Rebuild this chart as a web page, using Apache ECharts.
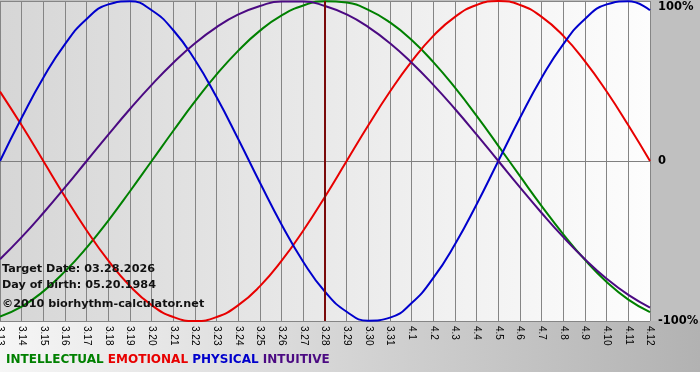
<!DOCTYPE html>
<html>
<head>
<meta charset="utf-8">
<script src="https://cdn.jsdelivr.net/npm/echarts@6/dist/echarts.min.js"></script>
<style>
html,body{margin:0;padding:0;background:#fff;}
#c{width:700px;height:380px;}
</style>
</head>
<body>
<div id="c"></div>
<script>
const dates = ['3.13','3.14','3.15','3.16','3.17','3.18','3.19','3.20','3.21','3.22','3.23','3.24','3.25','3.26','3.27','3.28','3.29','3.30','3.31','4.1','4.2','4.3','4.4','4.5','4.6','4.7','4.8','4.9','4.10','4.11','4.12'];
const targetDate = '3.28';
const physical = [0,27.0,52.0,73.1,88.8,97.9,99.8,94.2,81.7,63.1,39.8,13.6,-13.6,-39.8,-63.1,-81.7,-94.2,-99.8,-97.9,-88.8,-73.1,-52.0,-27.0,0,27.0,52.0,73.1,88.8,97.9,99.8,94.2];
const emotional = [43.4,22.3,0,-22.3,-43.4,-62.3,-78.2,-90.1,-97.5,-100,-97.5,-90.1,-78.2,-62.3,-43.4,-22.3,0,22.3,43.4,62.3,78.2,90.1,97.5,100,97.5,90.1,78.2,62.3,43.4,22.3,0];
const intellectual = [-97.2,-91.0,-81.5,-69.0,-54.1,-37.2,-18.9,0,18.9,37.2,54.1,69.0,81.5,91.0,97.2,99.9,99.0,94.5,86.6,75.6,61.8,45.8,28.2,9.5,-9.5,-28.2,-45.8,-61.8,-75.6,-86.6,-94.5];
const intuitive = [-61.4,-47.6,-32.5,-16.5,0,16.5,32.5,47.6,61.4,73.6,83.7,91.6,96.9,99.7,99.7,96.9,91.6,83.7,73.6,61.4,47.6,32.5,16.5,0,-16.5,-32.5,-47.6,-61.4,-73.6,-83.7,-91.6];
const yTickLabels = {'100':'100%','0':'0','-100':'-100%'};
const infoLines = ['Target Date: 03.28.2026','Day of birth: 05.20.1984','\u00a92010 biorhythm-calculator.net'];

const colors = {INTELLECTUAL:'#008000', EMOTIONAL:'#e80000', PHYSICAL:'#0000cc', INTUITIVE:'#4b0a82'};

const chart = echarts.init(document.getElementById('c'), null, {renderer:'canvas'});
function line(name, data, extra){
  return Object.assign({
    name, type:'line', data, smooth:true, symbol:'none',
    lineStyle:{color:colors[name], width:2}, itemStyle:{color:colors[name]}, z:3
  }, extra||{});
}
const legendFont = 'bold 12px "DejaVu Sans"';
const infoFont = 'bold 11.2px "DejaVu Sans"';
chart.setOption({
  animation:false,
  backgroundColor:'#c0c0c0',
  grid:{left:0, right:50, top:1, bottom:59, show:true, borderWidth:0, containLabel:false, outerBoundsMode:'none',
    backgroundColor:new echarts.graphic.LinearGradient(0,0,1,0,[{offset:0,color:'#d6d6d6'},{offset:1,color:'#fdfdfd'}])},
  xAxis:{type:'category', data:dates, boundaryGap:false,
    axisLine:{show:true, lineStyle:{color:'#808080', width:1}},
    axisTick:{show:true, length:3, lineStyle:{color:'#808080'}},
    splitLine:{show:true, lineStyle:{color:'#858585', width:1}},
    axisLabel:{rotate:-90, interval:0, margin:5, color:'#000', fontFamily:'Liberation Sans', fontSize:10, hideOverlap:false}},
  yAxis:{type:'value', min:-100, max:100, interval:100, position:'right',
    axisLine:{show:false}, axisTick:{show:false},
    splitLine:{show:true, lineStyle:{color:'#858585', width:1}},
    axisLabel:{margin:8, color:'#000', fontFamily:'DejaVu Sans', fontWeight:'bold', fontSize:11.5,
      formatter:v=> v===100 ? '{t|100%}' : yTickLabels[String(v)],
      rich:{t:{padding:[12,0,0,0], fontFamily:'DejaVu Sans', fontWeight:'bold', fontSize:11.5, color:'#000'}}}},
  series:[
    line('INTELLECTUAL', intellectual),
    line('EMOTIONAL', emotional),
    line('PHYSICAL', physical),
    line('INTUITIVE', intuitive, {
      markLine:{silent:true, symbol:'none', label:{show:false},
        lineStyle:{color:'#7a0a0a', width:2, type:'solid'},
        data:[{xAxis:targetDate}]}
    })
  ],
  graphic:[
    {type:'rect', z:-1, shape:{x:0,y:321,width:700,height:51},
      style:{fill:new echarts.graphic.LinearGradient(0,0,1,0,[{offset:0,color:'#f6f6f6'},{offset:1,color:'#b2b2b2'}])}},
    {type:'rect', z:-1, shape:{x:0,y:372,width:700,height:8}, style:{fill:'#ffffff'}},
    {type:'text', z:100, left:2, top:264, style:{text:infoLines[0], font:infoFont, fill:'#111'}},
    {type:'text', z:100, left:2, top:280, style:{text:infoLines[1], font:infoFont, fill:'#111'}},
    {type:'text', z:100, left:2, top:299, style:{text:infoLines[2], font:infoFont, fill:'#111'}},
    {type:'text', z:100, left:6, top:354, style:{
      text:'{a|INTELLECTUAL} {b|EMOTIONAL} {c|PHYSICAL} {d|INTUITIVE}',
      font:legendFont,
      rich:{a:{fill:colors.INTELLECTUAL, font:legendFont},
            b:{fill:colors.EMOTIONAL, font:legendFont},
            c:{fill:colors.PHYSICAL, font:legendFont},
            d:{fill:colors.INTUITIVE, font:legendFont}}}}
  ]
});
</script>
</body>
</html>
